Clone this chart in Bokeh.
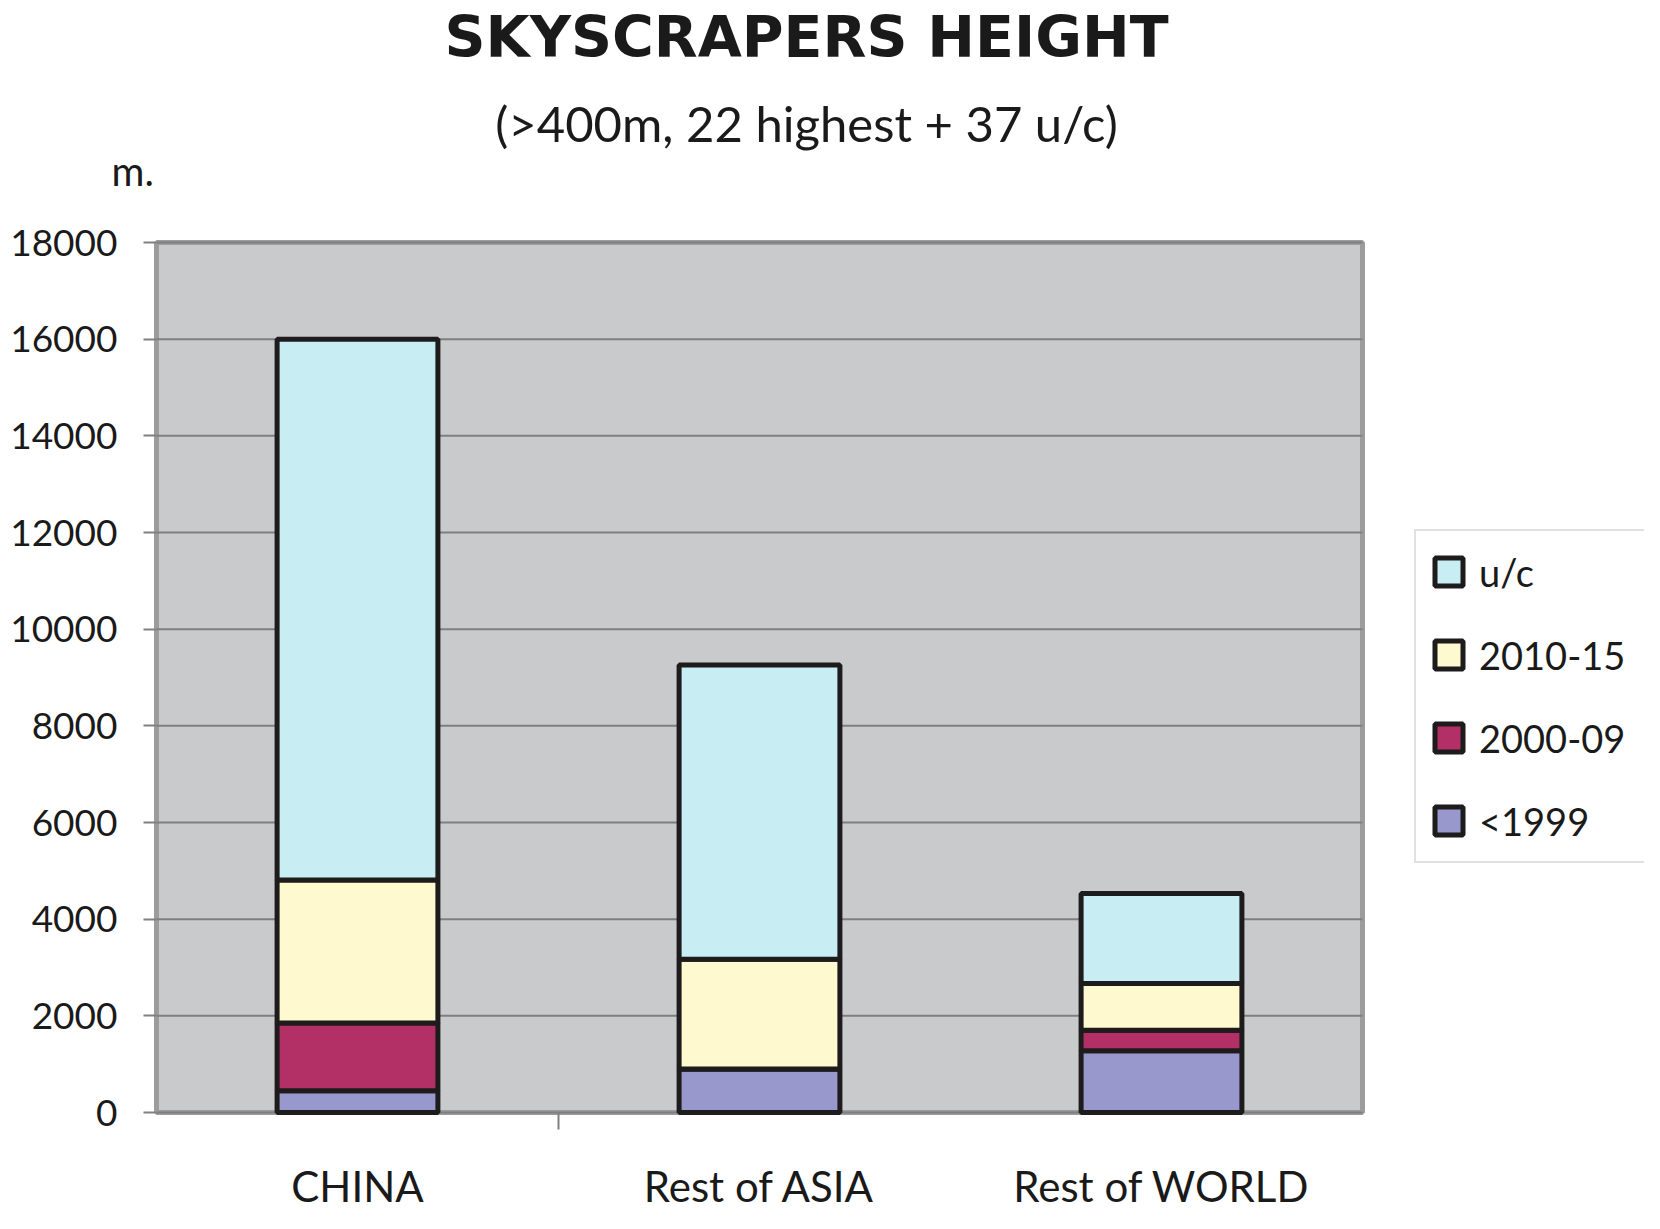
from bokeh.plotting import figure
from bokeh.models import (Label, Legend, LegendItem, ColumnDataSource, FixedTicker,
                          Range1d, LinearAxis)
from bokeh.embed import file_html
from bokeh.resources import INLINE

# ---- data ----
regions = ["CHINA", "Rest of ASIA", "Rest of WORLD"]
periods = ["<1999", "2000-09", "2010-15", "u/c"]
pre1999 = [450, 900, 1280]
y2000_09 = [1400, 0, 420]
y2010_15 = [2960, 2270, 970]
under_construction = [11190, 6090, 1860]
y_ticks = [0, 2000, 4000, 6000, 8000, 10000, 12000, 14000, 16000, 18000]
colors = ["#9898cc", "#b33066", "#fff9d0", "#c8eef3"]

# ---- layout constants (canvas px) ----
W, H = 1644, 1213
FB = 1135                # bottom edge of the drawing frame
FL = 156                 # left edge of plot area
CAT_W = 402              # px per category
Y0_PX, YTOP_PX = 1112, 242   # px of value 0 and of top tick
YMAX = y_ticks[-1]
PX_PER_UNIT_Y = (Y0_PX - YTOP_PX) / YMAX


def dx(px):
    return (px - FL) / CAT_W


def dy(py):
    return (Y0_PX - py) / PX_PER_UNIT_Y


xs = [i + 0.5 for i in range(len(regions))]
src = ColumnDataSource(dict(x=xs, region=regions, **{"<1999": pre1999, "2000-09": y2000_09,
                                                     "2010-15": y2010_15, "u/c": under_construction}))

p = figure(x_range=Range1d(dx(0), dx(W)), y_range=Range1d(dy(FB), dy(0)), width=W, height=H,
           title=None, output_backend="svg", toolbar_location=None,
           min_border_left=0, min_border_right=0, min_border_top=0, min_border_bottom=H - FB,
           x_axis_type=None, y_axis_type=None)
p.background_fill_color = "white"
p.border_fill_color = "white"
p.outline_line_color = None
p.xgrid.grid_line_color = None
p.ygrid.grid_line_color = None

# plot area
p.quad(left=0, right=len(regions), bottom=0, top=YMAX, fill_color="#c9cacc",
       line_color="#9c9c9c", line_width=5)
p.segment(x0=[0] * len(y_ticks), x1=[len(regions)] * len(y_ticks), y0=y_ticks, y1=y_ticks,
          line_color="#7f7f80", line_width=2)
# category-boundary tick below the first gap
p.segment(x0=[1], x1=[1], y0=[0], y1=[dy(Y0_PX + 17)], line_color="#808080", line_width=2)

rs = p.vbar_stack(periods, x="x", width=0.4, source=src, color=colors,
                  line_color="#1d1b1b", line_width=5)

# y axis drawn at the left edge of the plot area
yaxis = LinearAxis(fixed_location=0, ticker=FixedTicker(ticks=y_ticks))
yaxis.axis_line_color = None
yaxis.major_tick_line_color = "#808080"
yaxis.major_tick_line_width = 2
yaxis.major_tick_out = 13
yaxis.major_tick_in = 0
yaxis.minor_tick_line_color = None
yaxis.major_label_standoff = 26
yaxis.major_label_text_font = "Lato"
yaxis.major_label_text_font_size = "37px"
yaxis.major_label_text_color = "#1a1a1a"
p.add_layout(yaxis, "left")

# x axis below, category names at bar centres
xaxis = LinearAxis(ticker=FixedTicker(ticks=xs, minor_ticks=[]),
                   major_label_overrides={x: r for x, r in zip(xs, regions)})
xaxis.axis_line_color = None
xaxis.major_tick_line_color = None
xaxis.major_tick_out = 0
xaxis.major_tick_in = 0
xaxis.minor_tick_line_color = None
xaxis.minor_tick_out = 0
xaxis.minor_tick_in = 0
xaxis.major_label_standoff = 25
xaxis.major_label_text_font = "Lato"
xaxis.major_label_text_font_size = "42px"
xaxis.major_label_text_color = "#1a1a1a"
p.add_layout(xaxis, "below")

# texts
p.add_layout(Label(x=dx(806), y=dy(36), text="SKYSCRAPERS HEIGHT", text_align="center",
                   text_baseline="alphabetic", text_font="DejaVu Sans", text_font_style="bold",
                   text_font_size="57px", text_color="#1a1a1a"))
p.add_layout(Label(x=dx(806), y=dy(122), text="(>400m, 22 highest + 37 u/c)", text_align="center",
                   text_baseline="alphabetic", text_font="Lato",
                   text_font_size="49px", text_color="#1a1a1a"))
p.add_layout(Label(x=dx(111), y=dy(170), text="m.", text_align="left",
                   text_baseline="alphabetic", text_font="Lato",
                   text_font_size="40px", text_color="#1a1a1a"))

items = [LegendItem(label=periods[i], renderers=[rs[i]]) for i in [3, 2, 1, 0]]
legend = Legend(items=items, location=(1414, FB - 863), orientation="vertical",
                glyph_width=35, glyph_height=35, spacing=32, padding=15, margin=0,
                label_width=153, label_height=51, label_standoff=13,
                label_text_font="Lato", label_text_font_size="38px", label_text_color="#1a1a1a",
                border_line_color="#c4c4c4", border_line_width=2,
                background_fill_color="white", background_fill_alpha=1.0)
p.add_layout(legend, "center")

open("out.html", "w").write(file_html(p, INLINE))
